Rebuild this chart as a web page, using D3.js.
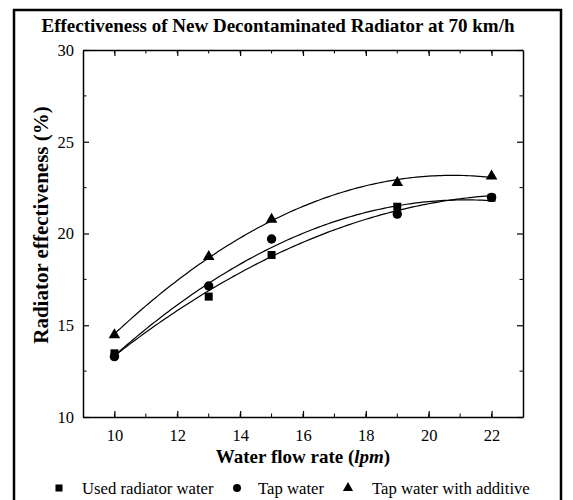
<!DOCTYPE html>
<html>
<head>
<meta charset="utf-8">
<script src="https://cdn.jsdelivr.net/npm/d3@7"></script>
<style>
  body { margin: 0; background: #fff; }
  text { font-family: "Liberation Serif", "Times New Roman", serif; fill: #000; }
</style>
</head>
<body>
<script>
// Data
const flowRates = [10, 13, 15, 19, 22];
const usedWater = [13.47, 16.56, 18.83, 21.46, 21.95];
const tapWater = [13.29, 17.14, 19.7, 21.06, 21.97];
const tapAdditive = [14.47, 18.74, 20.77, 22.77, 23.13];
const seriesNames = ["Used radiator water", "Tap water", "Tap water with additive"];
const symbols = [d3.symbolSquare, d3.symbolCircle, d3.symbolTriangle];
const xTicks = [10, 12, 14, 16, 18, 20, 22];
const yTicks = [10, 15, 20, 25, 30];

// Constants
const width = 573;
const height = 500;
const margin = {left: 83, right: 50, top: 50, bottom: 83};

const x = d3.scaleLinear().domain([9, 23]).range([margin.left, width - margin.right]);
const y = d3.scaleLinear().domain([10, 30]).range([height - margin.bottom, margin.top]);

const svg = d3.select("body").append("svg")
    .attr("width", width)
    .attr("height", height);

// Outer frame (bottom edge runs off the picture)
svg.append("rect")
    .attr("x", 14).attr("y", 10)
    .attr("width", 547).attr("height", 500)
    .attr("fill", "none").attr("stroke", "#000").attr("stroke-width", 2.5);

// Title
svg.append("text")
    .attr("x", 278).attr("y", 32)
    .attr("text-anchor", "middle")
    .attr("font-size", 19).attr("font-weight", "bold")
    .text("Effectiveness of New Decontaminated Radiator at 70 km/h");

// Axes with inward ticks on all four sides
const [x0, x1] = x.range();
const [y0, y1] = y.range();
const xMinor = d3.range(10, 23, 1);
const yMinor = d3.range(12.5, 30, 5);

const axisBottomG = svg.append("g").attr("transform", `translate(0,${y0})`)
    .call(d3.axisBottom(x).tickValues(xTicks).tickSize(-6).tickPadding(12).tickSizeOuter(0));
axisBottomG.append("g").selectAll("line").data(xMinor).join("line")
    .attr("x1", d => x(d)).attr("x2", d => x(d)).attr("y1", 0).attr("y2", -3.5).attr("stroke", "#000");
const axisTopG = svg.append("g").attr("transform", `translate(0,${y1})`)
    .call(d3.axisTop(x).tickValues(xTicks).tickSize(-6).tickFormat("").tickSizeOuter(0));
axisTopG.append("g").selectAll("line").data(xMinor).join("line")
    .attr("x1", d => x(d)).attr("x2", d => x(d)).attr("y1", 0).attr("y2", 3.5).attr("stroke", "#000");
const axisLeftG = svg.append("g").attr("transform", `translate(${x0},0)`)
    .call(d3.axisLeft(y).tickValues(yTicks).tickSize(-6).tickPadding(9).tickSizeOuter(0));
axisLeftG.append("g").selectAll("line").data(yMinor).join("line")
    .attr("y1", d => y(d)).attr("y2", d => y(d)).attr("x1", 0).attr("x2", 3.5).attr("stroke", "#000");
const axisRightG = svg.append("g").attr("transform", `translate(${x1},0)`)
    .call(d3.axisRight(y).tickValues(yTicks).tickSize(-6).tickFormat("").tickSizeOuter(0));
axisRightG.append("g").selectAll("line").data(yMinor).join("line")
    .attr("y1", d => y(d)).attr("y2", d => y(d)).attr("x1", 0).attr("x2", -3.5).attr("stroke", "#000");

svg.selectAll(".domain").attr("stroke-width", 1.5);
svg.selectAll(".tick line").attr("stroke-width", 1.2);
svg.selectAll(".tick text")
    .attr("font-family", "Liberation Serif, serif")
    .attr("font-size", 16.5);

// Axis titles
const xTitle = svg.append("text")
    .attr("x", (x0 + x1) / 2).attr("y", 463)
    .attr("text-anchor", "middle")
    .attr("font-size", 19).attr("font-weight", "bold");
xTitle.append("tspan").text("Water flow rate (");
xTitle.append("tspan").attr("font-style", "italic").text("lpm");
xTitle.append("tspan").text(")");

svg.append("text")
    .attr("transform", `translate(48,225) rotate(-90)`)
    .attr("text-anchor", "middle")
    .attr("font-size", 21).attr("font-weight", "bold")
    .text("Radiator effectiveness (%)");

// Quadratic least-squares fit of each series
function quadFit(xs, ys) {
  const s = [0, 0, 0, 0, 0], t = [0, 0, 0];
  xs.forEach((xv, i) => {
    for (let k = 0; k < 5; k++) s[k] += xv ** k;
    for (let k = 0; k < 3; k++) t[k] += ys[i] * xv ** k;
  });
  const m = [[s[0], s[1], s[2], t[0]], [s[1], s[2], s[3], t[1]], [s[2], s[3], s[4], t[2]]];
  for (let i = 0; i < 3; i++) {
    for (let j = i + 1; j < 3; j++) {
      const f = m[j][i] / m[i][i];
      for (let k = i; k < 4; k++) m[j][k] -= f * m[i][k];
    }
  }
  const c = [0, 0, 0];
  for (let i = 2; i >= 0; i--) {
    let v = m[i][3];
    for (let k = i + 1; k < 3; k++) v -= m[i][k] * c[k];
    c[i] = v / m[i][i];
  }
  return xv => c[0] + c[1] * xv + c[2] * xv * xv;
}

const series = [usedWater, tapWater, tapAdditive];
const line = d3.line().x(d => x(d[0])).y(d => y(d[1]));
const sizes = [64, 70, 58];

series.forEach((vals, i) => {
  const f = quadFit(flowRates, vals);
  const pts = d3.range(10, 22.001, 0.1).map(xv => [xv, f(xv)]);
  svg.append("path")
      .attr("d", line(pts))
      .attr("fill", "none").attr("stroke", "#000").attr("stroke-width", 1.2);
  svg.append("g").selectAll("path").data(vals).join("path")
      .attr("transform", (d, j) => `translate(${x(flowRates[j])},${y(d)})`)
      .attr("d", d3.symbol(symbols[i], sizes[i]));
});

// Legend
const legendX = [59, 237, 348];
const legend = svg.append("g").selectAll("g").data(seriesNames).join("g")
    .attr("transform", (d, i) => `translate(${legendX[i]},488)`);
legend.append("path")
    .attr("d", (d, i) => d3.symbol(symbols[i], [50, 50, 45][i])());
legend.append("text")
    .attr("x", (d, i) => [23, 21, 24][i]).attr("y", 6)
    .attr("font-size", 16.7)
    .text(d => d);
</script>
</body>
</html>
